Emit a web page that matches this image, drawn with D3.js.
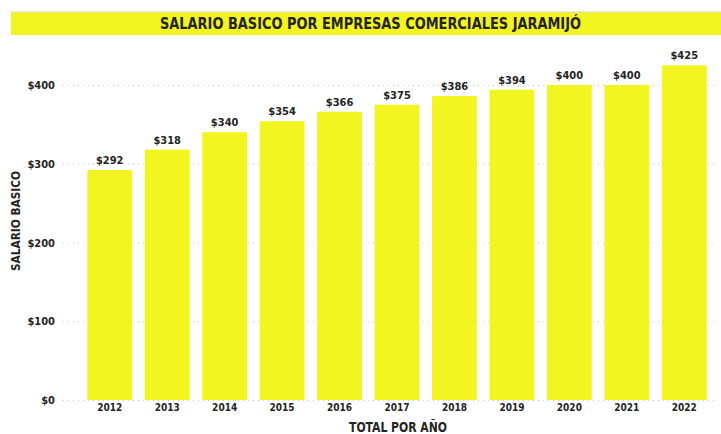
<!DOCTYPE html>
<html><head><meta charset="utf-8">
<script src="https://cdn.jsdelivr.net/npm/d3@7"></script>
<style>
html,body{margin:0;padding:0;background:#fff;}
text{font-family:"DejaVu Sans Condensed","Liberation Sans Narrow","Roboto",sans-serif;font-weight:bold;fill:#252423;}
</style></head>
<body>
<svg id="c" width="721" height="434"></svg>
<script>
const years = ["2012","2013","2014","2015","2016","2017","2018","2019","2020","2021","2022"];
const salario = [292,318,340,354,366,375,386,394,400,400,425];
const yTicks = [0,100,200,300,400];
const titleText = "SALARIO BASICO POR EMPRESAS COMERCIALES JARAMIJÓ";
const yTitle = "SALARIO BASICO";
const xTitle = "TOTAL POR AÑO";

const svg = d3.select("#c");
const yellow = "#F3F521";

// title bar
svg.append("rect").attr("x",11).attr("y",12).attr("width",710).attr("height",23).attr("fill",yellow);
svg.append("line").attr("x1",11).attr("x2",721).attr("y1",12).attr("y2",12).attr("stroke","#d8d8c0").attr("stroke-width",1);
svg.append("text").attr("x",160).attr("y",29).attr("font-size",16.5)
  .attr("textLength",421).attr("lengthAdjust","spacingAndGlyphs").text(titleText);

const y = d3.scaleLinear().domain([0,450]).range([400, 400-450*0.7875]);
const x = d3.scaleBand().domain(years).range([81, 713]).paddingInner(0.22).paddingOuter(0.11);

// gridlines
svg.append("g").selectAll("line").data(yTicks).join("line")
  .attr("x1",63).attr("x2",716).attr("y1",d=>y(d)+0.5).attr("y2",d=>y(d)+0.5)
  .attr("stroke","#c8c8c8").attr("stroke-width",1).attr("stroke-dasharray","1,4");

// y axis labels
const yAxis = d3.axisLeft(y).tickValues(yTicks).tickFormat(d=>"$"+d).tickSize(0).tickPadding(0);
const ga = svg.append("g").attr("transform","translate(55,0)").call(yAxis);
ga.select(".domain").remove();
ga.selectAll("text").attr("font-size",11).attr("font-family",null).style("fill","#252423");

// bars
svg.append("g").selectAll("rect").data(salario).join("rect")
  .attr("x",(d,i)=>x(years[i])).attr("width",x.bandwidth())
  .attr("y",d=>y(d)).attr("height",d=>y(0)-y(d)).attr("fill",yellow);

// data labels
svg.append("g").selectAll("text").data(salario).join("text")
  .attr("x",(d,i)=>x(years[i])+x.bandwidth()/2).attr("y",d=>y(d)-6)
  .attr("text-anchor","middle").attr("font-size",11).text(d=>"$"+d);

// x axis labels
const xAxis = d3.axisBottom(x).tickSize(0).tickPadding(0);
const gx = svg.append("g").attr("transform","translate(0,404)").call(xAxis);
gx.select(".domain").remove();
gx.selectAll("text").attr("font-size",10).attr("font-family",null).attr("dy","0.71em").style("fill","#252423");

// axis titles
svg.append("text").attr("x",349).attr("y",431.5).attr("font-size",14)
  .attr("textLength",98).attr("lengthAdjust","spacingAndGlyphs").text(xTitle);
svg.append("text").attr("transform","translate(20,271) rotate(-90)").attr("font-size",12.5)
  .attr("textLength",100).attr("lengthAdjust","spacingAndGlyphs").text(yTitle);
</script>
</body></html>
